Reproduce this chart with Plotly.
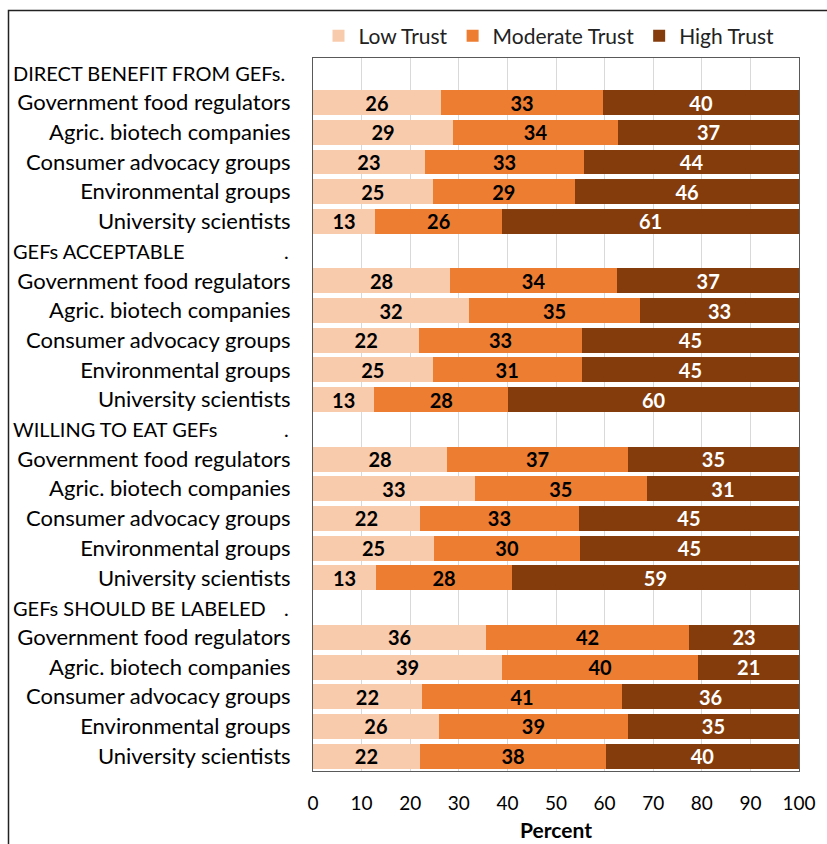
import plotly.graph_objects as go

groups = ["DIRECT BENEFIT FROM GEFs.", "GEFs ACCEPTABLE", "WILLING TO EAT GEFs", "GEFs SHOULD BE LABELED"]
group_dots = ["", ".", ".", "."]
sources = ["Government food regulators", "Agric. biotech companies", "Consumer advocacy groups",
           "Environmental groups", "University scientists"]

low = [[26.3, 28.8, 23.0, 24.6, 12.8],
       [28.2, 32.1, 21.9, 24.6, 12.6],
       [27.6, 33.3, 22.0, 24.9, 13.0],
       [35.6, 38.9, 22.4, 25.9, 22.0]]
moderate = [[33.4, 34.0, 32.8, 29.3, 26.1],
            [34.4, 35.2, 33.4, 30.7, 27.6],
            [37.2, 35.4, 32.7, 30.1, 27.9],
            [41.8, 40.4, 41.2, 38.9, 38.3]]
high = [[40.3, 37.2, 44.2, 46.1, 61.1],
        [37.4, 32.7, 44.7, 44.7, 59.8],
        [35.2, 31.3, 45.3, 44.9, 59.1],
        [22.6, 20.7, 36.4, 35.2, 39.7]]

series_names = ["Low Trust", "Moderate Trust", "High Trust"]
colors = ["#F8CBAD", "#ED7D31", "#843C0C"]
text_colors = ["#000000", "#000000", "#FFFFFF"]
x_ticks = list(range(0, 101, 10))

# build rows (header row + 5 source rows per group)
ypos, ticktext, header_rows = [], [], []
vals = {0: [], 1: [], 2: []}
r = 0
for g in range(len(groups)):
    header_rows.append(r)
    ypos.append(r); ticktext.append("")
    for k in range(3):
        vals[k].append(None)
    r += 1
    for s in range(len(sources)):
        ypos.append(r); ticktext.append(sources[s])
        vals[0].append(low[g][s]); vals[1].append(moderate[g][s]); vals[2].append(high[g][s])
        r += 1

FONT = "Lato"
fig = go.Figure()
for k in range(3):
    fig.add_trace(go.Bar(
        y=ypos, x=vals[k], orientation="h", name=series_names[k],
        marker=dict(color=colors[k], line=dict(width=0)),
        texttemplate="%{x:.0f}", textposition="inside", insidetextanchor="middle",
        textangle=0,
        textfont=dict(family=FONT, size=20, color=text_colors[k], weight="bold"),
        constraintext="none",
    ))

L, R, T, B = 313, 28, 58, 73
W, H = 827, 844
pw, ph = W - L - R, H - T - B

def px_x(px):
    return (px - L) / pw

def px_y(py):
    return 1 - (py - T) / ph

annotations = []
for g, row in enumerate(header_rows):
    annotations.append(dict(x=px_x(11), y=row, xref="paper", yref="y", text=groups[g],
                            showarrow=False, xanchor="left", yanchor="middle",
                            font=dict(family=FONT, size=20, color="#000")))
    if group_dots[g]:
        annotations.append(dict(x=px_x(291), y=row, xref="paper", yref="y", text=group_dots[g],
                                showarrow=False, xanchor="right", yanchor="middle",
                                font=dict(family=FONT, size=20, color="#000")))

fig.update_layout(
    width=W, height=H,
    margin=dict(l=L, r=R, t=T, b=B),
    paper_bgcolor="white", plot_bgcolor="white",
    barmode="stack", bargap=0.16,
    font=dict(family=FONT, size=19, color="#000"),
    legend=dict(orientation="h", x=px_x(549), xanchor="center", y=px_y(36), yanchor="middle",
                font=dict(family=FONT, size=21, color="#222"), traceorder="normal",
                itemwidth=30, entrywidthmode="pixels"),
    xaxis=dict(range=[0, 100], tickvals=x_ticks, ticktext=[str(v) for v in x_ticks],
               showgrid=True, gridcolor="#D9D9D9", gridwidth=1, zeroline=False,
               showline=True, linecolor="#595959", linewidth=1, mirror=True,
               ticks="", ticklabelstandoff=15, automargin=False,
               tickfont=dict(family=FONT, size=19, color="#000"),
               title=dict(text="<b>Percent</b>", standoff=10, font=dict(family=FONT, size=21, color="#000"))),
    yaxis=dict(tickvals=ypos, ticktext=ticktext, autorange="reversed", automargin=False,
               showgrid=False, zeroline=False, showline=True, linecolor="#595959",
               linewidth=1, mirror=True, ticks="", ticklabelstandoff=17,
               tickfont=dict(family=FONT, size=22, color="#000")),
    annotations=annotations,
    shapes=[dict(type="rect", xref="paper", yref="paper",
                 x0=px_x(8.5), x1=px_x(840), y0=px_y(860), y1=px_y(10.5),
                 line=dict(color="#222", width=1.5), fillcolor="rgba(0,0,0,0)", layer="above")],
)
fig.update_yaxes(range=[len(ypos) - 0.5, -0.5], autorange=False)

fig.write_html("out.html")
